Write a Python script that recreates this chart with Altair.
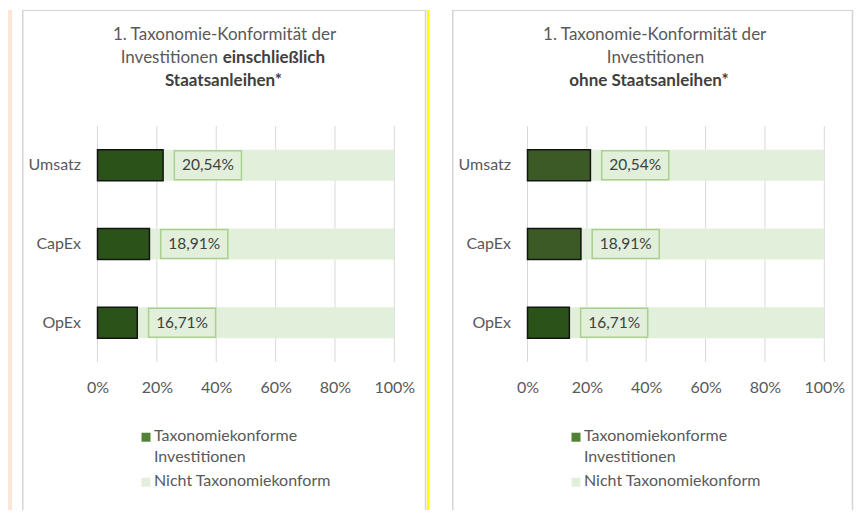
import altair as alt
import pandas as pd

# ---------------- data ----------------
categories = ["Umsatz", "CapEx", "OpEx"]
aligned_incl = [22.1, 17.5, 13.4]      # dark bar lengths (left panel), in %
aligned_excl = [21.2, 18.0, 14.1]      # dark bar lengths (right panel), in %
label_texts = ["20,54%", "18,91%", "16,71%"]
total_value = 100
series_names = ["Taxonomiekonforme Investitionen", "Nicht Taxonomiekonform"]
x_ticks = [0, 20, 40, 60, 80, 100]
title_incl = ["1. Taxonomie-Konformität der", "Investitionen", "einschließlich", "Staatsanleihen*"]
title_excl = ["1. Taxonomie-Konformität der", "Investitionen", "ohne Staatsanleihen*"]

# ---------------- layout constants ----------------
W1, W2, H = 404, 401, 500
X_RANGE = [75.5, 372.3]
Y_RANGE = [116, 352]
FONT = "Lato"
TXT = "#595959"
DARK_TXT = "#404040"
GRID = "#d9d9d9"
BORDER = "#d4d4d4"
LIGHT = "#e2efda"
LEG_DARK = "#548235"


def one_row(text):
    return alt.Chart(pd.DataFrame({"t": [text]}))


def text_mark(text, x, y, bold=False, align="center", size=17):
    return one_row(text).mark_text(
        font=FONT, fontSize=size, color=DARK_TXT if bold else TXT,
        fontWeight="bold" if bold else "normal", align=align, baseline="middle"
    ).encode(text="t:N", x=alt.value(x), y=alt.value(y))


def deco_rule(x, x2, y, y2, color, width):
    enc = dict(x=alt.value(x), y=alt.value(y))
    if x2 is not None:
        enc["x2"] = alt.value(x2)
    if y2 is not None:
        enc["y2"] = alt.value(y2)
    return one_row("").mark_rule(color=color, strokeWidth=width).encode(**enc)


def panel(values, dark_fill, titles, width, decorations):
    rows = []
    for c, v, t in zip(categories, values, label_texts):
        rows.append({"cat": c, "series": series_names[1], "value": total_value, "label": t})
        rows.append({"cat": c, "series": series_names[0], "value": v, "label": t})
    df = pd.DataFrame(rows)
    base = alt.Chart(df)

    xs = alt.Scale(domain=[0, 100], range=X_RANGE, nice=False, zero=True)
    ys = alt.Scale(domain=categories, range=Y_RANGE, paddingInner=0.606, paddingOuter=0.303)

    x_axis = alt.Axis(values=x_ticks, labelExpr="datum.value + '%'", grid=False, domain=False,
                      ticks=False, offset=-131, labelPadding=0, labelFont=FONT, labelFlush=False,
                      labelOverlap=False, labelFontSize=16, labelColor=TXT, title=None)
    y_axis = alt.Axis(domain=False, ticks=False, labelPadding=0, offset=-58.5, labelFont=FONT,
                      labelFontSize=16, labelColor=TXT, title=None)

    grid = alt.Chart(pd.DataFrame({"t": x_ticks})).mark_rule(color=GRID, strokeWidth=1).encode(
        x=alt.X("t:Q", scale=xs), y=alt.value(Y_RANGE[0]), y2=alt.value(Y_RANGE[1]))

    legend = alt.Legend(
        orient="none", legendX=116, legendY=410, direction="vertical", title=None,
        symbolType="M-1,1.05H1V3.05H-1Z", symbolSize=81, symbolStrokeWidth=0,
        labelFont=FONT, labelFontSize=16, labelColor=TXT, labelLimit=0, labelBaseline="top",
        labelExpr="datum.label == 'Taxonomiekonforme Investitionen' ? ['Taxonomiekonforme', 'Investitionen'] : datum.label",
        rowPadding=0, padding=0, labelOffset=0,
    )

    light = base.mark_bar().encode(
        x=alt.X("value:Q", scale=xs, axis=x_axis, stack=None),
        y=alt.Y("cat:N", scale=ys, axis=y_axis, sort=categories),
        color=alt.Color("series:N", scale=alt.Scale(domain=series_names, range=[LEG_DARK, LIGHT]),
                        legend=legend),
    )

    dark = base.transform_filter(alt.datum.series == series_names[0]).mark_bar(
        stroke="#141414", strokeWidth=1.5).encode(
        x=alt.X("value:Q", scale=xs), y=alt.Y("cat:N", scale=ys, sort=categories), fill=dark_fill)

    box = base.transform_filter(alt.datum.series == series_names[0]).transform_calculate(
        lo="datum.value + 3.8", hi="datum.value + 26.4").mark_bar(
        size=29, fill=LIGHT, stroke="#a9d08e", strokeWidth=1.5).encode(
        x=alt.X("lo:Q", scale=xs), x2="hi:Q", y=alt.Y("cat:N", scale=ys, sort=categories))

    lbl = base.transform_filter(alt.datum.series == series_names[0]).transform_calculate(
        mid="datum.value + 15.1").mark_text(font=FONT, fontSize=15.5, color=DARK_TXT).encode(
        x=alt.X("mid:Q", scale=xs), y=alt.Y("cat:N", scale=ys, sort=categories), text="label:N")

    layers = [grid, light, dark, box, lbl] + titles + decorations
    return alt.layer(*layers).properties(width=width, height=H)


titles1 = [
    text_mark(title_incl[0], 202.5, 25),
    text_mark(title_incl[1], 196, 48, align="right"),
    text_mark(title_incl[2], 200.7, 48, bold=True, align="left"),
    text_mark(title_incl[3], 201.5, 71, bold=True),
]
titles2 = [
    text_mark(title_excl[0], 202.7, 25),
    text_mark(title_excl[1], 203.5, 48),
    text_mark(title_excl[2], 197, 71, bold=True),
]

deco1 = [
    deco_rule(-12, None, 0, H, "#fbe5d6", 4),
    deco_rule(0.75, None, 0, H, BORDER, 1.5),
    deco_rule(0, W1, 0.5, None, BORDER, 1),
    deco_rule(W1 - 0.5, None, 0, H, BORDER, 1.5),
    deco_rule(W1 + 2.2, None, 0, H, "#ffff00", 2.6),
]
deco2 = [
    deco_rule(0.75, None, 0, H, BORDER, 1.5),
    deco_rule(0, W2, 0.5, None, BORDER, 1),
    deco_rule(W2 - 0.5, None, 0, H, BORDER, 1.5),
]

left = panel(aligned_incl, alt.value("#2b5219"), titles1, W1, deco1)
right = panel(aligned_excl,
              alt.condition("datum.cat == 'OpEx'", alt.value("#2b5219"), alt.value("#3b5a26")),
              titles2, W2, deco2)

chart = alt.hconcat(left, right, spacing=26, bounds="flush").resolve_scale(
    color="independent", x="independent", y="independent"
).resolve_legend(color="independent").properties(
    padding={"left": 0, "top": 0, "right": 0, "bottom": 0},
    background="white",
).configure(style={"guide-label": {"lineHeight": 21}}).configure_view(stroke=None)

chart.save("out.html", embed_options={"renderer": "svg", "actions": False})
